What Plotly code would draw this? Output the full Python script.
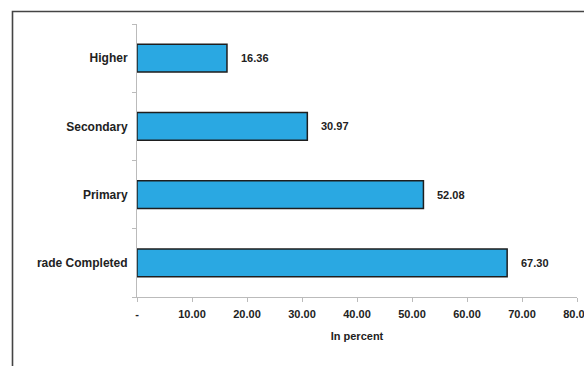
import plotly.graph_objects as go

# Education levels, listed top to bottom
levels = ["Higher", "Secondary", "Primary", "rade Completed"]
shares = [16.36, 30.97, 52.08, 67.30]

x_tick_vals = [0, 10, 20, 30, 40, 50, 60, 70, 80]
x_tick_text = ["-", "10.00", "20.00", "30.00", "40.00", "50.00", "60.00", "70.00", "80.00"]

W, H = 584, 366
ML, MR, MT, MB = 137, 7, 24, 69
pw, ph = W - ML - MR, H - MT - MB

font_family = "Liberation Sans, Arial, sans-serif"
ink = "#222222"

fig = go.Figure()
fig.add_trace(go.Bar(
    y=levels,
    x=shares,
    orientation="h",
    width=0.41,
    marker=dict(color="#2AA8E2", line=dict(color="#1E1E1E", width=1.5)),
    hoverinfo="skip",
))

# Value labels to the right of each bar
for lvl, v in zip(levels, shares):
    fig.add_annotation(
        x=v, y=lvl, text=f"<b>{v:.2f}</b>", showarrow=False,
        xanchor="left", xshift=12, yanchor="middle",
        font=dict(family=font_family, size=11, color=ink),
    )

# Outer frame (top and left edges)
def px_to_paper_x(px):
    return (px - ML) / pw

def px_to_paper_y(py):
    return (H - MB - py) / ph

fx0 = px_to_paper_x(12.5)
fy0 = px_to_paper_y(11.5)
fig.add_shape(
    type="path", xref="paper", yref="paper",
    path=f"M {fx0},{px_to_paper_y(H + 5)} L {fx0},{fy0} L {px_to_paper_x(W + 5)},{fy0}",
    line=dict(color="#444444", width=1.6),
)

fig.update_layout(
    width=W, height=H,
    margin=dict(l=ML, r=MR, t=MT, b=MB, autoexpand=False),
    paper_bgcolor="white", plot_bgcolor="white",
    showlegend=False,
    font=dict(family=font_family, size=11, color=ink),
    xaxis=dict(
        range=[0, 80], tickvals=x_tick_vals, ticktext=[f"<b>{t}</b>" for t in x_tick_text],
        showgrid=False, zeroline=False, showline=True, linecolor="#BBBBBB", linewidth=1,
        ticks="outside", ticklen=4, tickcolor="#BBBBBB",
        ticklabelstandoff=3, ticklabeloverflow="allow", automargin=False,
        title=dict(text="<b>In percent</b>", font=dict(size=11), standoff=13),
        fixedrange=True,
    ),
    yaxis=dict(
        categoryorder="array", categoryarray=levels, autorange="reversed",
        tickmode="array", tickvals=levels, ticktext=[f"<b>{l}</b>" for l in levels],
        tickfont=dict(size=12),
        showgrid=False, zeroline=False, showline=True, linecolor="#BBBBBB", linewidth=1,
        ticks="outside", ticklen=4, tickcolor="#BBBBBB", tickson="boundaries",
        ticklabelstandoff=6, automargin=False,
        fixedrange=True,
    ),
)

fig.write_html("out.html", config={"displayModeBar": False})
